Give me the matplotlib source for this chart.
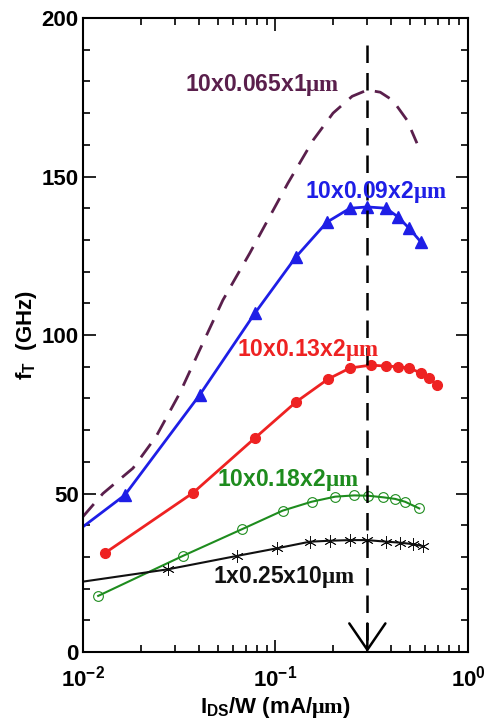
import numpy as np
import matplotlib
matplotlib.use("Agg")
import matplotlib.pyplot as plt

plt.rcParams['font.family'] = ['Liberation Sans', 'DejaVu Sans']
plt.rcParams['font.weight'] = 'bold'
plt.rcParams['axes.labelweight'] = 'bold'
plt.rcParams['mathtext.fontset'] = 'custom'
plt.rcParams['mathtext.rm'] = 'Liberation Sans:bold'
plt.rcParams['mathtext.it'] = 'Liberation Serif'
plt.rcParams['mathtext.bf'] = 'Liberation Sans:bold'

# f_T vs. drain current density for several device geometries
x_065 = [0.01, 0.0127, 0.0182, 0.024, 0.0318, 0.0404, 0.0533, 0.0735, 0.116, 0.157, 0.199,
         0.25, 0.30, 0.35, 0.407, 0.482, 0.543]
ft_065 = [42.7, 50.0, 58.0, 68.0, 81.6, 95.3, 111.0, 125.8, 147.9, 161.5, 170.0,
          175.3, 177.3, 176.6, 174.0, 167.8, 160.5]

x_09 = [0.01, 0.0165, 0.0404, 0.078, 0.128, 0.185, 0.244, 0.30, 0.375, 0.432, 0.494, 0.570]
ft_09 = [39.5, 49.5, 81.1, 106.8, 124.7, 135.6, 140.0, 140.4, 140.0, 137.3, 133.7, 129.3]

x_13 = [0.013, 0.0373, 0.0782, 0.128, 0.1875, 0.244, 0.313, 0.375, 0.432, 0.494, 0.57, 0.627, 0.69]
ft_13 = [31.2, 50.2, 67.5, 78.9, 86.1, 89.6, 90.5, 90.2, 90.0, 89.6, 88.0, 86.4, 84.2]

x_18 = [0.012, 0.033, 0.0668, 0.109, 0.154, 0.204, 0.256, 0.303, 0.363, 0.418, 0.471, 0.558]
ft_18 = [17.7, 30.3, 38.7, 44.6, 47.4, 49.0, 49.4, 49.3, 48.8, 48.3, 47.4, 45.3]

x_25 = [0.01, 0.0277, 0.0629, 0.1015, 0.151, 0.192, 0.244, 0.298, 0.377, 0.443, 0.52, 0.585]
ft_25 = [22.2, 26.1, 30.3, 32.7, 34.8, 35.1, 35.3, 35.3, 34.8, 34.5, 34.0, 33.4]

labels = ['10x0.065x1$\\mathit{\\mu m}$', '10x0.09x2$\\mathit{\\mu m}$',
          '10x0.13x2$\\mathit{\\mu m}$', '10x0.18x2$\\mathit{\\mu m}$',
          '1x0.25x10$\\mathit{\\mu m}$']
label_x = [0.034, 0.142, 0.063, 0.0497, 0.0473]
label_y = [179, 145, 95.3, 54.3, 23.7]

c_065 = '#5a1f4c'
c_09 = '#1e1ee6'
c_13 = '#ee2222'
c_18 = '#1e8c1e'
c_25 = '#111111'

peak_x = 0.3

fig = plt.figure(figsize=(4.85, 7.21), dpi=100)
ax = fig.add_axes([0.171, 0.0957, 0.794, 0.8793])

ax.plot(x_065, ft_065, color=c_065, lw=2, dashes=(6, 4))
ax.plot(x_09, ft_09, color=c_09, lw=2, marker='^', ms=8, markevery=list(range(1, len(x_09))))
ax.plot(x_13, ft_13, color=c_13, lw=2, marker='o', ms=7)
ax.plot(x_18, ft_18, color=c_18, lw=1.5, marker='o', ms=7, mfc='none', mew=0.8)
ax.plot(x_25, ft_25, color=c_25, lw=1.5, marker=(6, 2, 0), ms=9, mew=0.6,
        markevery=list(range(1, len(x_25))))

colors = [c_065, c_09, c_13, c_18, c_25]
for txt, lx, ly, c in zip(labels, label_x, label_y, colors):
    ax.text(lx, ly, txt, color=c, fontsize=16.5, fontweight='bold', ha='left', va='center')

# peak f_T marker: dashed line with open arrowhead at the axis
ax.plot([peak_x, peak_x], [191.5, 1], color='black', lw=1.8, dashes=(7, 4))
ax.annotate('', xy=(peak_x, 0), xytext=(peak_x, 9),
            arrowprops=dict(arrowstyle='->,head_length=1.9,head_width=1.3', lw=1.8,
                            color='black', shrinkA=0, shrinkB=0))

ax.set_xscale('log')
ax.set_xlim(0.01, 1)
ax.set_ylim(0, 200)
ax.set_yticks([0, 50, 100, 150, 200])
ax.set_yticks(np.arange(0, 201, 10), minor=True)
ax.tick_params(which='both', direction='in', top=True, right=True, labelsize=16, width=1.2)
ax.tick_params(which='major', length=9)
ax.tick_params(which='minor', length=5)
ax.tick_params(axis='x', which='major', pad=10)
ax.tick_params(axis='y', which='major', pad=3)
for s in ax.spines.values():
    s.set_linewidth(1.5)

ax.set_xlabel('I$_{\\mathdefault{DS}}$/W (mA/$\\mathit{\\mu m}$)', fontsize=16, labelpad=2)
ax.set_ylabel('f$_{\\mathdefault{T}}$  (GHz)', fontsize=16, labelpad=2)

fig.savefig('out.png', dpi=100)
